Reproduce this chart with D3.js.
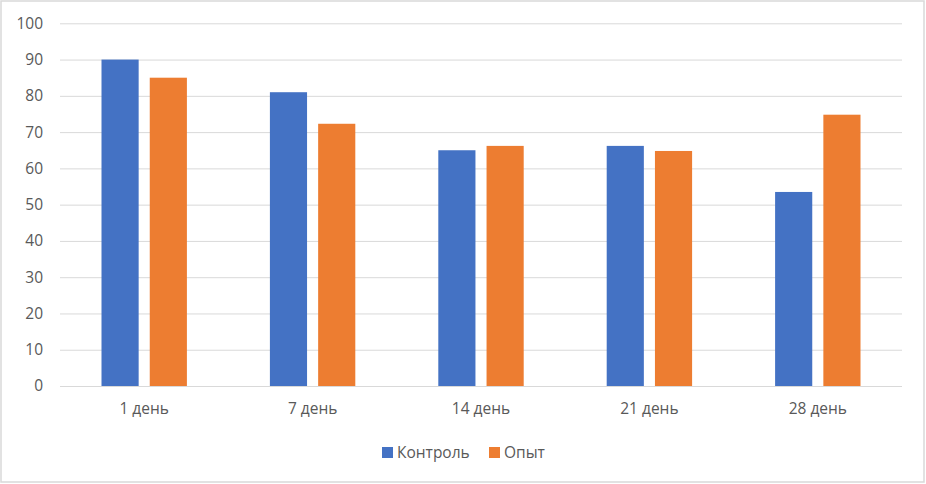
<!DOCTYPE html>
<html>
<head>
<meta charset="utf-8">
<script src="https://cdn.jsdelivr.net/npm/d3@7"></script>
<style>
body { margin: 0; background: #fff; }
svg text { font-family: "Open Sans", "Noto Sans", sans-serif; fill: #595959; }
</style>
</head>
<body>
<div id="chart"></div>
<script>
let categories = ["1 день", "7 день", "14 день", "21 день", "28 день"];
let seriesNames = ["Контроль", "Опыт"];
let control = [90, 81, 65, 66.2, 53.5];
let experiment = [85, 72.3, 66.2, 64.8, 74.8];
let yTicks = [0, 10, 20, 30, 40, 50, 60, 70, 80, 90, 100];
let colors = ["#4472c4", "#ed7d31"];

let width = 926;
let height = 484;
let plotLeft = 60, plotRight = 902, plotTop = 23.3, plotBottom = 386;
let fontSize = "15.5px";

let svg = d3.select("#chart").append("svg")
	.attr("width", width)
	.attr("height", height);

svg.append("rect")
	.attr("x", 1)
	.attr("y", 1)
	.attr("width", width - 3)
	.attr("height", height - 3)
	.attr("fill", "white")
	.attr("stroke", "#d9d9d9")
	.attr("stroke-width", 1.5);

let xScale = d3.scaleBand()
	.domain(categories)
	.range([plotLeft, plotRight]);

let inner = d3.scaleBand()
	.domain(seriesNames)
	.range([41.5, xScale.bandwidth() - 41.5])
	.paddingInner(0.23);

let yScale = d3.scaleLinear()
	.domain([0, 100])
	.range([plotBottom, plotTop]);

// gridlines
let yAxis = d3.axisLeft(yScale)
	.tickValues(yTicks)
	.tickSize(-(plotRight - plotLeft))
	.tickPadding(17)
	.tickFormat(d3.format("d"));

let gy = svg.append("g")
	.attr("transform", `translate(${plotLeft},0)`)
	.call(yAxis);
gy.select(".domain").remove();
gy.selectAll(".tick line").attr("stroke", "#d9d9d9").attr("stroke-width", 1);
gy.selectAll(".tick text").attr("font-size", fontSize).attr("fill", "#595959");

let rows = categories.map((c, i) => ({ cat: c, vals: [control[i], experiment[i]] }));

let groups = svg.selectAll(".grp")
	.data(rows)
	.enter()
	.append("g")
	.attr("transform", d => `translate(${xScale(d.cat)},0)`);

groups.selectAll("rect")
	.data(d => d.vals.map((v, j) => ({ name: seriesNames[j], v: v, j: j })))
	.enter()
	.append("rect")
	.attr("x", d => inner(d.name))
	.attr("y", d => yScale(d.v))
	.attr("width", inner.bandwidth())
	.attr("height", d => plotBottom - yScale(d.v))
	.attr("fill", d => colors[d.j]);

// baseline
svg.append("line")
	.attr("x1", plotLeft).attr("x2", plotRight)
	.attr("y1", plotBottom + 0.5).attr("y2", plotBottom + 0.5)
	.attr("stroke", "#d9d9d9");

// category labels
let xAxis = d3.axisBottom(xScale).tickSize(0).tickPadding(17);
let gx = svg.append("g")
	.attr("transform", `translate(0,${plotBottom})`)
	.call(xAxis);
gx.select(".domain").remove();
gx.selectAll(".tick text").attr("font-size", fontSize).attr("fill", "#595959");

// legend
let legendX = [382, 489];
let legend = svg.selectAll(".legend")
	.data(seriesNames)
	.enter()
	.append("g")
	.attr("transform", (d, i) => `translate(${legendX[i]},447)`);

legend.append("rect")
	.attr("width", 11)
	.attr("height", 11)
	.attr("fill", (d, i) => colors[i]);

legend.append("text")
	.attr("x", 15)
	.attr("y", 11)
	.attr("font-size", fontSize)
	.text(d => d);
</script>
</body>
</html>
